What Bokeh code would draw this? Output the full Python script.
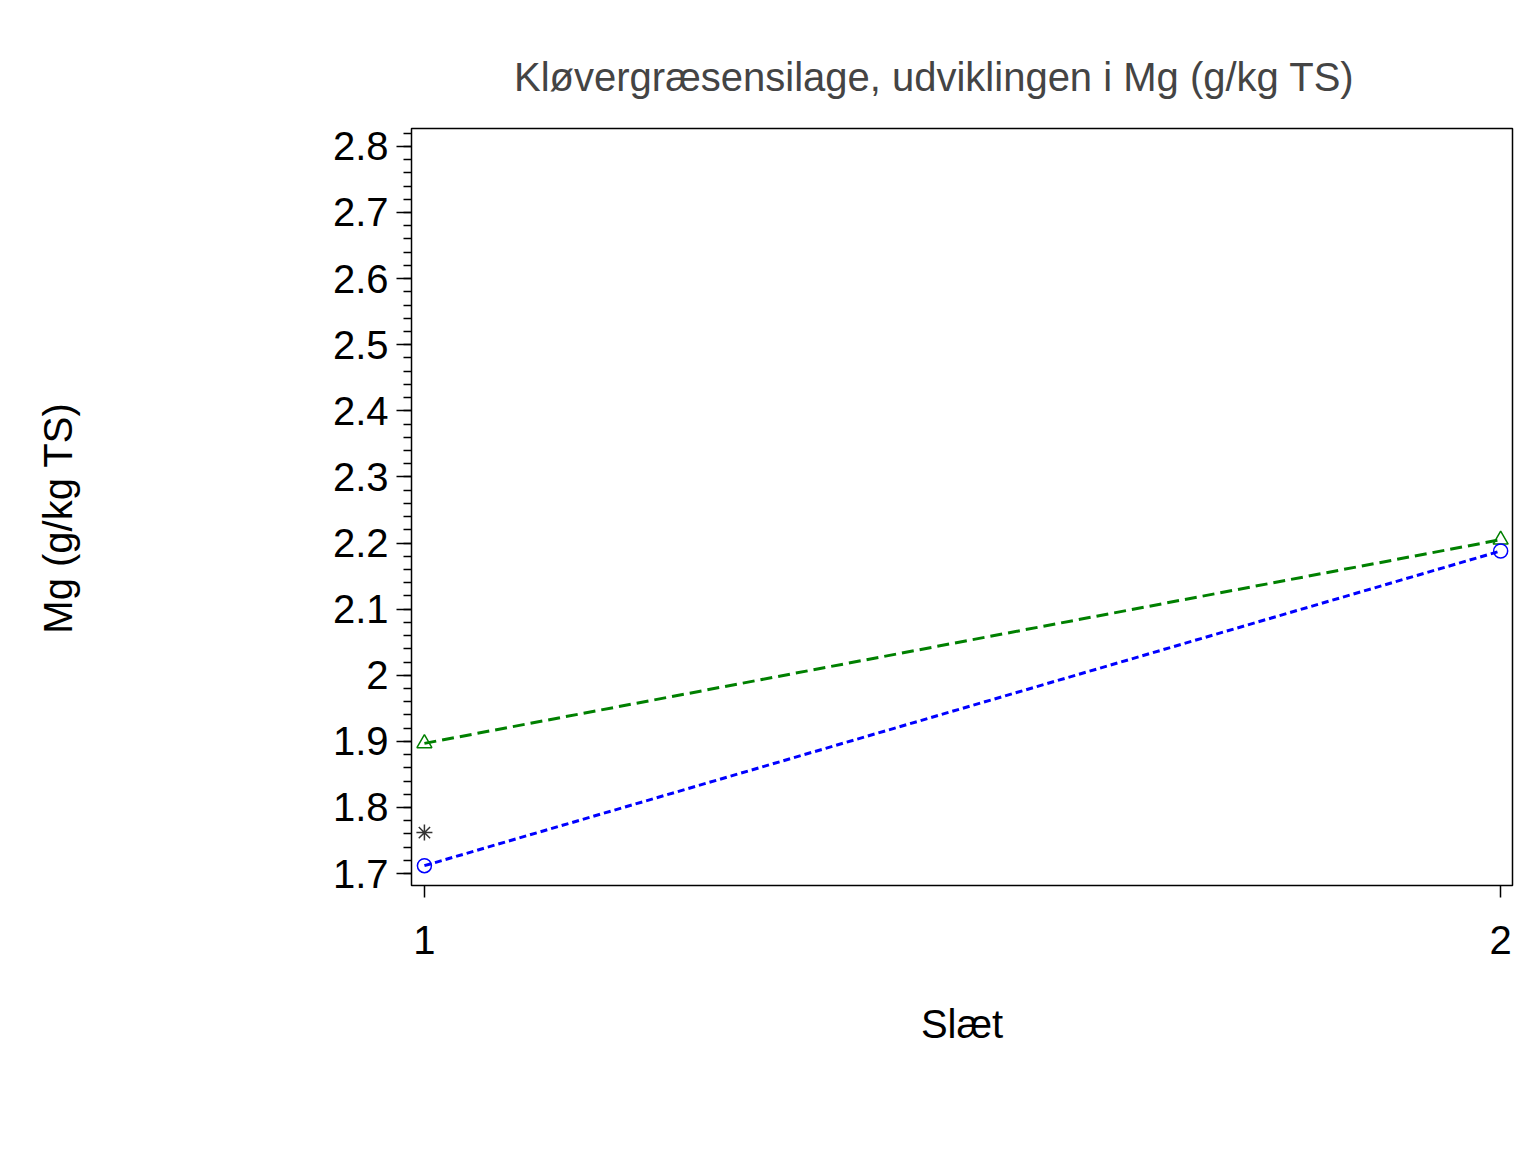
from bokeh.plotting import figure
from bokeh.models import Legend, LegendItem, FixedTicker, Range1d
from bokeh.embed import file_html
from bokeh.resources import INLINE

slaet = [1, 2]
mg_2024 = [1.897, 2.205]
mg_2025 = [1.712, 2.188]
slaet_2026 = [1]
mg_2026 = [1.762]

FONT = "Liberation Sans"
FS = "40px"

p = figure(output_backend="svg", toolbar_location=None,
           width=1528, height=1144, frame_width=1101, frame_height=757,
           min_border_left=411, min_border_top=128, min_border_right=16,
           min_border_bottom=259,
           x_range=Range1d(0.988, 2.011), y_range=Range1d(1.682, 2.827),
           title="Kløvergræsensilage,  udviklingen  i  Mg  (g/kg  TS)")
p.title.text_font = FONT
p.title.text_font_size = FS
p.title.text_font_style = "normal"
p.title.align = "center"
p.title.standoff = 60
p.grid.visible = False
p.outline_line_color = "black"
p.outline_line_width = 1.5

for ax in (p.xaxis[0], p.yaxis[0]):
    ax.major_label_text_font = FONT
    ax.major_label_text_font_size = FS
    ax.major_label_text_color = "black"
    ax.axis_label_text_font = FONT
    ax.axis_label_text_font_size = FS
    ax.axis_label_text_font_style = "normal"
    ax.axis_label_text_color = "black"
    ax.axis_line_color = None
    ax.major_tick_line_color = "black"
    ax.major_tick_line_width = 1.5
    ax.minor_tick_line_color = "black"
    ax.minor_tick_line_width = 1.5
    ax.major_tick_in = 0

p.xaxis.ticker = FixedTicker(ticks=[1, 2])
p.xaxis.minor_tick_line_color = None
p.xaxis.major_tick_out = 12
p.xaxis.major_label_standoff = 28
p.xaxis.axis_label = "Slæt"
p.xaxis.axis_label_standoff = 45

p.yaxis.ticker = FixedTicker(ticks=[1.7, 1.8, 1.9, 2.0, 2.1, 2.2, 2.3, 2.4, 2.5, 2.6, 2.7, 2.8],
                             minor_ticks=[round(1.68 + 0.02 * i, 2) for i in range(58)])
p.yaxis.major_tick_out = 15
p.yaxis.minor_tick_out = 8
p.yaxis.minor_tick_in = 0
p.yaxis.major_label_standoff = 8
p.yaxis.axis_label = "Mg  (g/kg  TS)"
p.yaxis.axis_label_standoff = 250

green = "#008000"
blue = "#0000FF"

l1 = p.line(slaet, mg_2024, line_color=green, line_width=3, line_dash="12 6")
m1 = p.scatter(slaet, mg_2024, marker="triangle", size=15, fill_color=None, line_color=green, line_width=1.5)
l2 = p.line(slaet, mg_2025, line_color=blue, line_width=3, line_dash="7 4")
m2 = p.scatter(slaet, mg_2025, marker="circle", size=14, fill_color=None, line_color=blue, line_width=1.5)
l3 = p.line(slaet_2026, mg_2026, line_color="black", line_width=2.5)
m3 = p.scatter(slaet_2026, mg_2026, marker="asterisk", size=16, line_color="#333333", line_width=1.5)

legend = Legend(items=[LegendItem(label="2024", renderers=[l1, m1]),
                       LegendItem(label="2025", renderers=[l2, m2]),
                       LegendItem(label="2026", renderers=[l3, m3])],
                orientation="horizontal", location="center",
                title="År", title_location="left", title_standoff=96,
                title_text_font=FONT, title_text_font_size=FS, title_text_font_style="normal",
                glyph_width=127, glyph_height=40, label_standoff=47, spacing=77,
                label_text_font=FONT, label_text_font_size=FS, label_text_color="black",
                border_line_color=None, background_fill_alpha=0, padding=0, margin=35,
                label_height=40)
p.add_layout(legend, "below")

open("out.html", "w").write(file_html(p, INLINE))
